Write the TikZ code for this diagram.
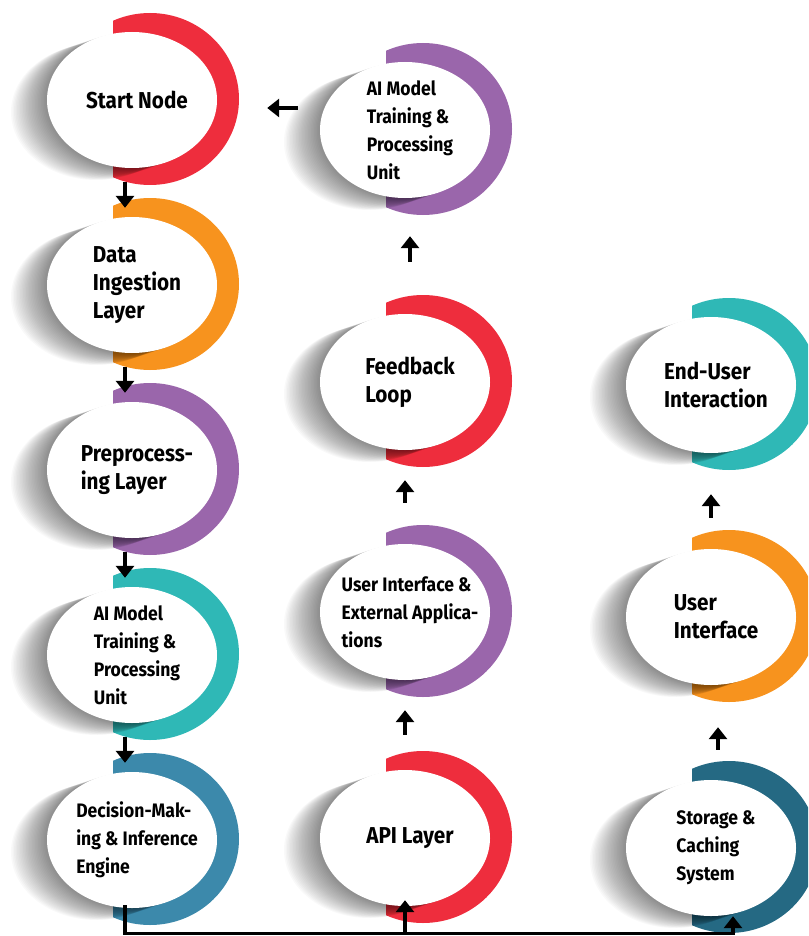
\documentclass[tikz,border=0pt]{standalone}
\usepackage{fontspec}
\usetikzlibrary{arrows.meta,shapes.geometric}
\newfontfamily\labelfont[FakeStretch=0.9]{Fira Sans}
\definecolor{ringred}{HTML}{EE2D3D}
\definecolor{ringorange}{HTML}{F7931E}
\definecolor{ringpurple}{HTML}{9A66AB}
\definecolor{ringteal}{HTML}{2FB8B6}
\definecolor{ringblue}{HTML}{3C89AB}
\definecolor{ringnavy}{HTML}{256983}
% #1 name, #2 centre, #3 ring colour, #4 text style, #5 text
\newcommand{\ringitem}[5]{%
  \begin{scope}[shift={(#2)}]
    \begin{scope}
      \clip (-19,-100) rectangle (120,100);
      \fill[#3] (18,-1) ellipse (89 and 86);
    \end{scope}
    \foreach \i in {1,...,24}
      \fill[black, opacity=.024] (-1.5*\i, .5*\i) ellipse (85 and 68);
  \end{scope}
  \node[item] (#1) at (#2) {};
  \node[#4] (#1-text) at ([xshift=5pt]#1) {#5};
}

\begin{document}
\begin{tikzpicture}[x=1pt, y=-1pt,
    item/.style={ellipse, fill=white, minimum width=170pt, minimum height=136pt, inner sep=0pt},
    bigtext/.style={font=\labelfont\bfseries\fontsize{23}{28}\selectfont, align=left},
    smalltext/.style={font=\labelfont\bfseries\fontsize{19.5}{28}\selectfont, align=left},
    arr/.style={line width=3.2pt, -{Triangle[width=18pt,length=12pt]}}]
\clip (0,0) rectangle (808,936);
% first column
\ringitem{start}{132,100}{ringred}{bigtext}{Start Node}
\ringitem{data}{132,285}{ringorange}{bigtext}{Data\\Ingestion\\Layer}
\ringitem{prep}{132,470}{ringpurple}{bigtext}{Preprocess-\\ing Layer}
\ringitem{aiunit}{132,655}{ringteal}{smalltext}{AI Model\\Training \&\\Processing\\Unit}
\ringitem{decision}{132,840}{ringblue}{smalltext}{Decision-Mak-\\ing \& Inference\\Engine}
% second column
\ringitem{aitrain}{405,130}{ringpurple}{smalltext}{AI Model\\Training \&\\Processing\\Unit}
\ringitem{feedback}{405,382}{ringred}{bigtext}{Feedback\\Loop}
\ringitem{uiext}{405,612}{ringpurple}{smalltext}{User Interface \&\\External Applica-\\tions}
\ringitem{api}{405,838}{ringred}{bigtext}{API Layer}
% third column
\ringitem{enduser}{711,385}{ringteal}{bigtext}{End-User\\Interaction}
\ringitem{ui}{711,617}{ringorange}{bigtext}{User\\Interface}
\ringitem{storage}{711,848}{ringnavy}{smalltext}{Storage \&\\Caching\\System}

% connectors
\foreach \a/\b in {start/data, data/prep, prep/aiunit, aiunit/decision}
  \draw[arr, shorten <=14pt, shorten >=9pt] ([xshift=-7pt]\a.south) -- ([xshift=-7pt]\b.north);
\coordinate (busR) at ([xshift=22pt, yshift=-17pt]storage.south);
\draw[arr, shorten <=-3pt] ([xshift=-7pt]decision.south) |- (busR) -- ([xshift=22pt]storage.south);
\draw[arr, shorten >=-6pt] (api.south |- busR) -- (api.south);
\draw[arr, shorten <=35pt, shorten >=30pt] (api.north) -- (uiext.south);
\draw[arr, shorten <=41pt, shorten >=30pt] (uiext.north) -- (feedback.south);
\draw[arr, shorten <=52pt, shorten >=38pt] ([xshift=5pt]feedback.north) -- ([xshift=5pt]aitrain.south);
\draw[arr, shorten <=22pt, shorten >=50pt] ([yshift=22pt]aitrain.west) -- ([yshift=22pt]aitrain.west -| start.east);
\draw[arr, shorten <=30pt, shorten >=42pt] ([xshift=7pt]storage.north) -- ([xshift=7pt]ui.south);
\draw[arr, shorten <=31pt, shorten >=41pt] (ui.north) -- (enduser.south);
\end{tikzpicture}
\end{document}
